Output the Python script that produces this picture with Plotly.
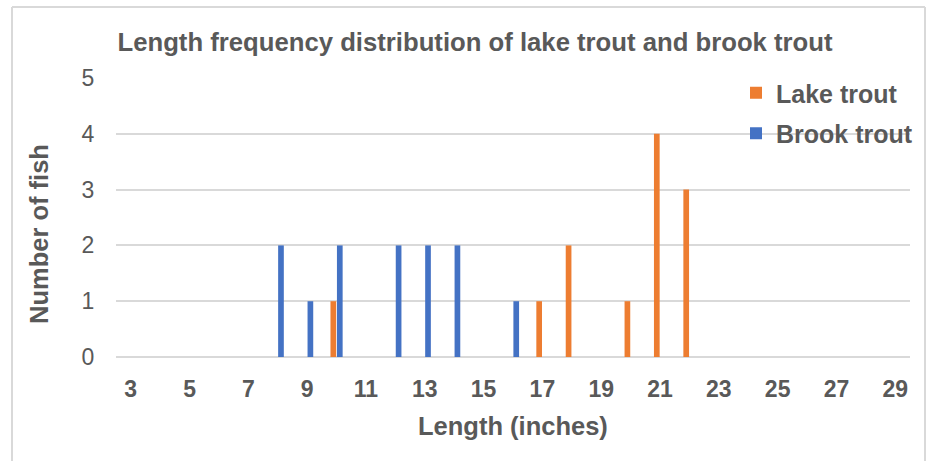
import plotly.graph_objects as go

lengths = list(range(3, 30))
lake_trout = [0, 0, 0, 0, 0, 0, 0, 1, 0, 0, 0, 0, 0, 0, 1, 2, 0, 1, 4, 3, 0, 0, 0, 0, 0, 0, 0]
brook_trout = [0, 0, 0, 0, 0, 2, 1, 2, 0, 2, 2, 2, 0, 1, 0, 0, 0, 0, 0, 0, 0, 0, 0, 0, 0, 0, 0]
x_ticks = list(range(3, 30, 2))
y_ticks = [0, 1, 2, 3, 4, 5]

GRAY = "#595959"
FONT = "Arial, Liberation Sans, sans-serif"

# plot area in px
L, R, T, B = 116, 910, 78, 357
W, H = 936, 461
pw, ph = R - L, B - T

def px_x(px):
    return (px - L) / pw

def px_y(py):
    return (B - py) / ph

fig = go.Figure()
fig.add_trace(go.Bar(x=lengths, y=lake_trout, name="<b>Lake trout</b>",
                     marker=dict(color="#ED7D31", line=dict(width=0)),
                     legendgroup="a"))
fig.add_trace(go.Bar(x=lengths, y=brook_trout, name="<b>Brook trout</b>",
                     marker=dict(color="#4472C4", line=dict(width=0)),
                     legendgroup="b"))

fig.update_layout(
    width=W, height=H,
    margin=dict(l=L, r=W - R, t=T, b=H - B),
    paper_bgcolor="white", plot_bgcolor="white",
    barmode="group", bargap=0.56, bargroupgap=0.12,
    font=dict(family=FONT, color=GRAY),
    title=dict(text="<b>Length frequency distribution of lake trout and brook trout</b>",
               x=475 / W, xanchor="center", xref="container",
               y=1 - 42 / H, yanchor="middle", yref="container",
               font=dict(size=25.7, color=GRAY, family=FONT)),
    legend=dict(x=px_x(736), y=px_y(70), xanchor="left", yanchor="top",
                bgcolor="rgba(0,0,0,0)", traceorder="grouped", tracegroupgap=5,
                font=dict(size=25, color=GRAY, family=FONT)),
    showlegend=True,
)

fig.update_xaxes(range=[2.5, 29.5], tickmode="array", tickvals=x_ticks,
                 ticktext=[f"<b>{v}</b>" for v in x_ticks],
                 showgrid=False, zeroline=False, showline=False,
                 ticks="outside", ticklen=11, tickcolor="rgba(0,0,0,0)",
                 tickfont=dict(size=23, color=GRAY, family=FONT))
fig.update_yaxes(range=[0, 5], tickmode="array", tickvals=y_ticks,
                 showgrid=True, gridcolor="#d9d9d9", gridwidth=2,
                 zeroline=True, zerolinecolor="#d9d9d9", zerolinewidth=2,
                 showline=False, ticks="outside", ticklen=16,
                 tickcolor="rgba(0,0,0,0)",
                 tickfont=dict(size=23, color=GRAY, family=FONT))

fig.add_annotation(text="<b>Number of fish</b>", xref="paper", yref="paper",
                   x=px_x(39), y=px_y(234), textangle=-90, showarrow=False,
                   xanchor="center", yanchor="middle",
                   font=dict(size=25.5, color=GRAY, family=FONT))
fig.add_annotation(text="<b>Length (inches)</b>", xref="paper", yref="paper",
                   x=px_x(513), y=px_y(426), showarrow=False,
                   xanchor="center", yanchor="middle",
                   font=dict(size=25.5, color=GRAY, family=FONT))

# document frame around the chart
frame = dict(color="#d9d9d9", width=2)
fig.add_shape(type="line", xref="paper", yref="paper",
              x0=px_x(12), x1=px_x(925), y0=px_y(7), y1=px_y(7), line=frame)
fig.add_shape(type="line", xref="paper", yref="paper",
              x0=px_x(12), x1=px_x(12), y0=px_y(7), y1=px_y(470), line=frame)
fig.add_shape(type="line", xref="paper", yref="paper",
              x0=px_x(925), x1=px_x(925), y0=px_y(7), y1=px_y(470), line=frame)

fig.write_html("out.html", config={"displayModeBar": False},
               post_script="document.body.style.margin='0';document.body.style.overflow='hidden';")
